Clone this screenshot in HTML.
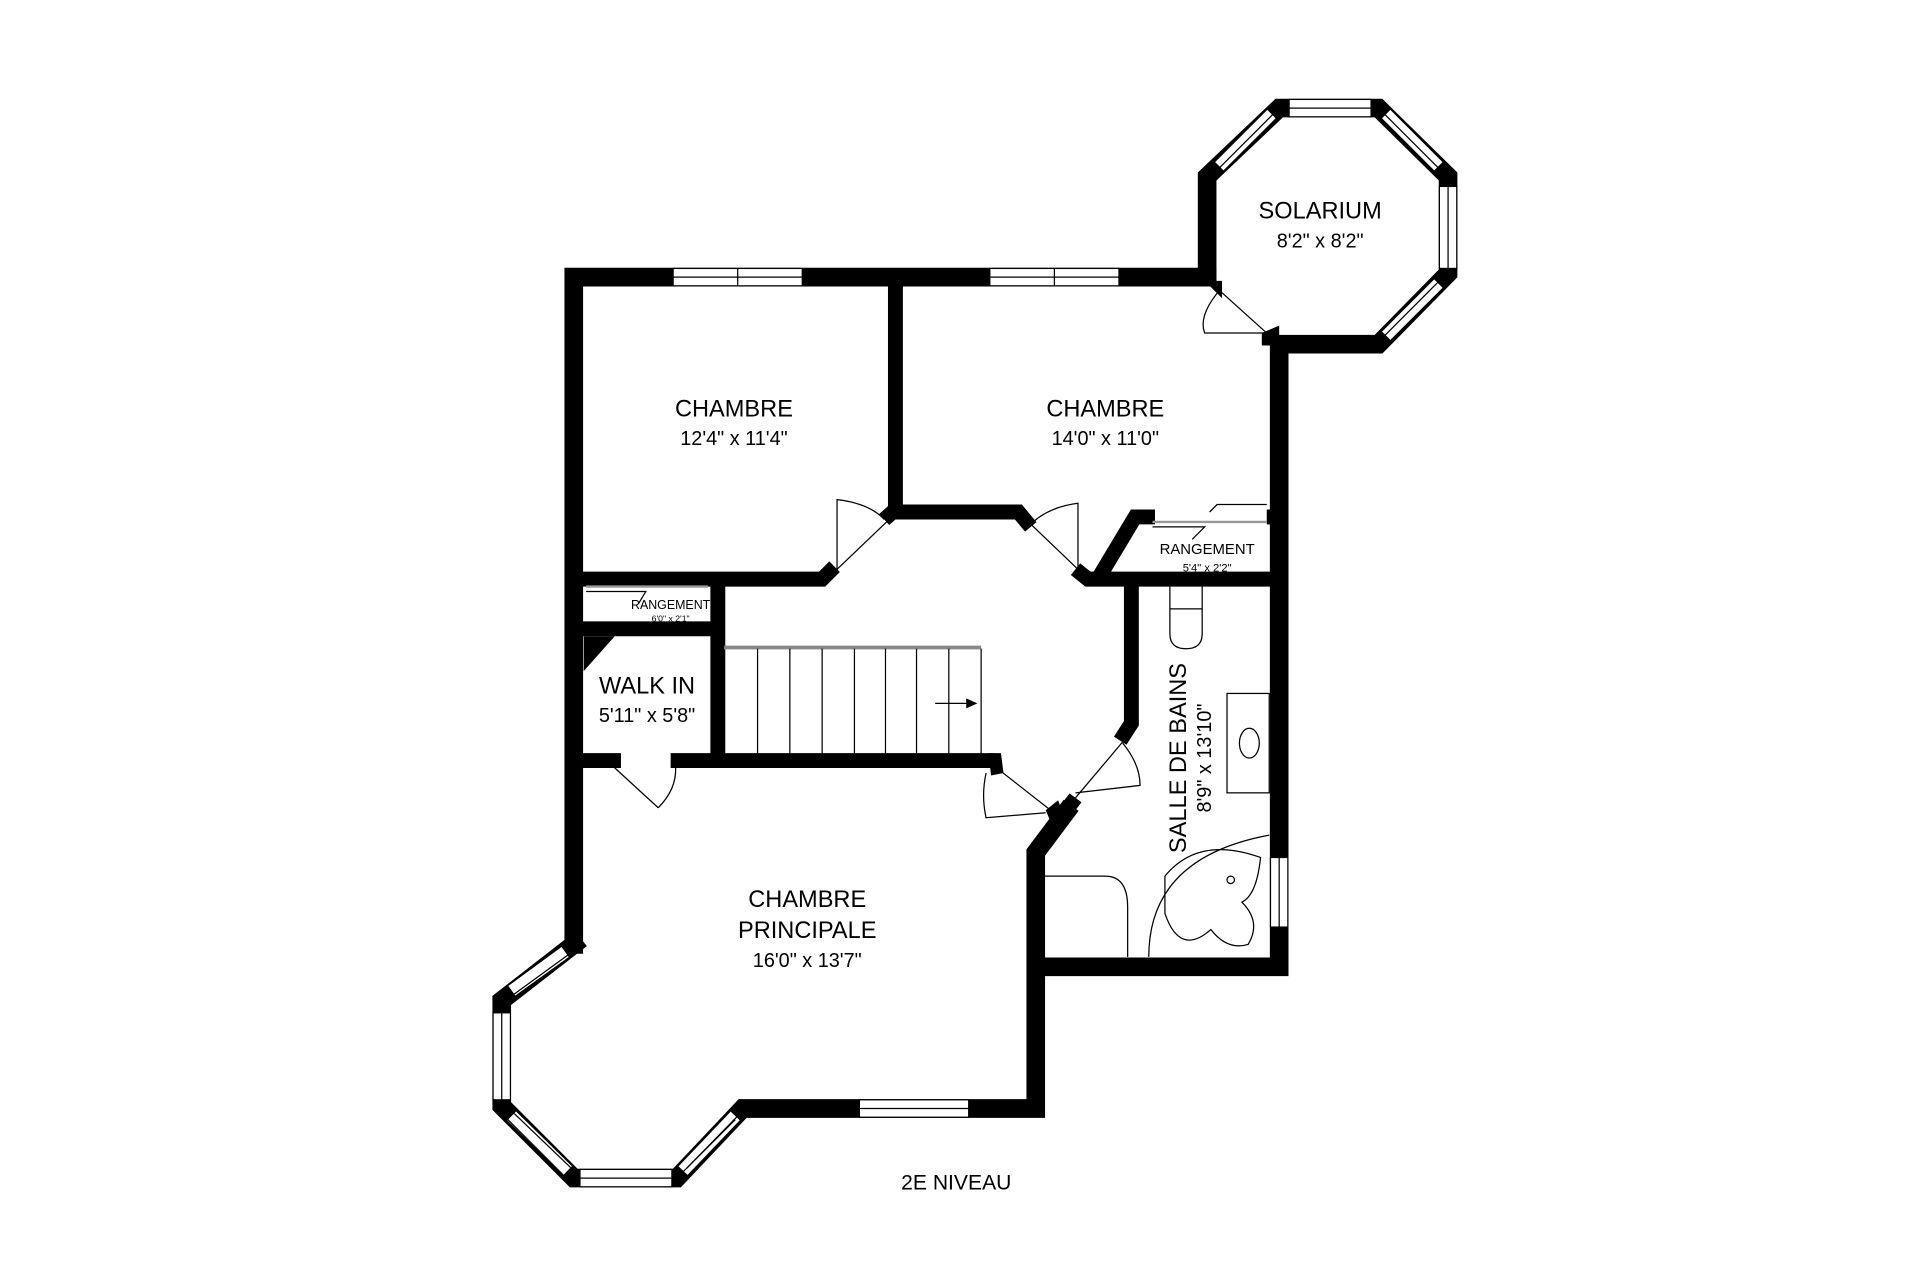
<!DOCTYPE html>
<html><head><meta charset="utf-8"><style>
html,body{margin:0;padding:0;background:#fff;}
svg{display:block;}
text{font-family:"Liberation Sans",sans-serif;fill:#000;}
</style></head><body>
<svg width="1920" height="1280" viewBox="0 0 1546 1030" preserveAspectRatio="none" xmlns="http://www.w3.org/2000/svg">
<g fill="none" stroke="#000" stroke-width="15" stroke-linejoin="miter" stroke-linecap="square">
<polyline points="972,223 462,223 462,760"/>
<polyline points="972,223 972,142 1030,87 1110,87 1166,142 1166,220 1110,277 1030,277 1030,778 838,778"/>
<polyline points="462,760 404,805 404,890 462,948 545,948 598,892 834,892 834,686 858,654"/>
</g>
<g fill="none" stroke="#000" stroke-width="12">
<polyline points="721,223 721,412 820,412 830,424"/>
<polyline points="866,458 876,466 1030,466"/>
<polyline points="468,466 662,466 672,456"/>
<line x1="712" y1="418" x2="721" y2="410"/>
<polyline points="578,466 578,610"/>
<polyline points="468,612 500,612"/>
<polyline points="540,612 800,612"/>
<polyline points="911,470 911,582 902,596"/>
<line x1="854" y1="658" x2="866" y2="642"/>
<polyline points="468,506 578,506"/>
<polyline points="884,466 914,416 930,416"/>
<polyline points="1020,416 1030,416"/>
</g>
<g fill="#000">
<polygon points="970,226 984,226 984,240"/>
<polygon points="1016,268 1030,262 1030,278 1016,278"/>
<polygon points="470,512 495,512 470,540"/>
<polygon points="796,606 806,606 808,622 798,624"/>
<polygon points="842,652 852,644 858,660 848,666"/>
</g>
<g fill="#fff" stroke="#000" stroke-width="1">
<rect x="542" y="216" width="104" height="14"/><line x1="594" y1="216" x2="594" y2="230"/><line x1="542" y1="223" x2="646" y2="223"/>
<rect x="797" y="216" width="104" height="14"/><line x1="849" y1="216" x2="849" y2="230"/><line x1="797" y1="223" x2="901" y2="223"/>
<rect x="1038" y="80" width="66" height="14"/><line x1="1038" y1="87" x2="1104" y2="87"/>
<rect x="1159" y="150" width="14" height="66"/><line x1="1166" y1="150" x2="1166" y2="216"/>
<rect x="692" y="885" width="88" height="14"/><line x1="692" y1="892" x2="780" y2="892"/>
<rect x="467" y="941" width="74" height="14"/><line x1="467" y1="948" x2="541" y2="948"/>
<rect x="397" y="815" width="14" height="70"/><line x1="404" y1="815" x2="404" y2="885"/>
<rect x="1023" y="690" width="14" height="56"/><line x1="1030" y1="690" x2="1030" y2="746"/>
</g>
<g stroke="#fff" stroke-width="10" fill="none">
<line x1="982" y1="134" x2="1024" y2="92"/><line x1="1116" y1="92" x2="1158" y2="134"/>
<line x1="1158" y1="228" x2="1116" y2="270"/><line x1="412" y1="797" x2="455" y2="766"/>
<line x1="412" y1="898" x2="457" y2="942"/><line x1="550" y1="942" x2="592" y2="898"/>
</g>
<g stroke="#000" stroke-width="1" fill="none">
<line x1="979" y1="138" x2="1027" y2="90"/><line x1="985" y1="138" x2="1029" y2="94"/>
<line x1="1113" y1="90" x2="1161" y2="138"/><line x1="1111" y1="94" x2="1155" y2="138"/>
<line x1="1161" y1="224" x2="1113" y2="272"/><line x1="1155" y1="224" x2="1111" y2="268"/>
<line x1="409" y1="793" x2="454" y2="760"/><line x1="414" y1="800" x2="458" y2="768"/>
<line x1="409" y1="901" x2="454" y2="946"/><line x1="414" y1="896" x2="460" y2="940"/>
<line x1="547" y1="946" x2="592" y2="901"/><line x1="553" y1="940" x2="596" y2="896"/>
<line x1="1020" y1="268" x2="980" y2="232"/><path d="M980,236 Q965,255 970,268 L1020,268"/>
<line x1="716" y1="418" x2="672" y2="460"/><path d="M674,460 L674,402 Q700,405 712,418"/>
<line x1="826" y1="418" x2="870" y2="460"/><path d="M868,460 L868,405 Q845,408 832,420"/>
<line x1="800" y1="616" x2="846" y2="652"/><path d="M794,622 Q790,640 794,658 L842,654"/>
<line x1="866" y1="642" x2="904" y2="597"/><path d="M904,598 Q918,615 918,632 L866,638"/>
<line x1="494" y1="617" x2="530" y2="650"/><path d="M530,650 Q545,635 544,617"/>
<line x1="472" y1="472" x2="570" y2="472" stroke="#999" stroke-width="2"/>
<path d="M522,470 L527,463 L570,463"/><path d="M472,476 L520,476 L514,486"/>
<line x1="928" y1="420" x2="1020" y2="420" stroke="#999" stroke-width="2"/>
<path d="M974,412 L980,406 L1020,406"/><path d="M928,424 L970,424 L960,434"/>
<line x1="583" y1="521" x2="790" y2="521" stroke="#888" stroke-width="3"/>
<line x1="610" y1="522" x2="610" y2="607"/><line x1="636" y1="522" x2="636" y2="607"/>
<line x1="662" y1="522" x2="662" y2="607"/><line x1="688" y1="522" x2="688" y2="607"/>
<line x1="713" y1="522" x2="713" y2="607"/><line x1="738" y1="522" x2="738" y2="607"/>
<line x1="764" y1="522" x2="764" y2="607"/><line x1="790" y1="522" x2="790" y2="607"/>
<line x1="753" y1="566" x2="780" y2="566"/>
<path d="M942,472 L942,510 Q942,522 955,522 Q968,522 968,510 L968,472"/><line x1="942" y1="490" x2="968" y2="490"/>
<rect x="988" y="558" width="34" height="80"/><ellipse cx="1006" cy="598" rx="8" ry="12"/>
<path d="M838,705 L890,705 Q908,705 908,730 L908,770"/>
<path d="M925,770 Q925,690 1022,672"/>
<path d="M938,705 Q965,672 1015,690 Q1012,720 1000,726 Q1016,742 1005,760 Q988,765 975,748 Q950,770 938,735 Z"/>
<circle cx="991" cy="708" r="3"/>
</g>
<polygon points="787,566 778,562 778,570" fill="#000"/>
<g font-size="19">
<text x="591" y="335" text-anchor="middle">CHAMBRE</text>
<text x="591" y="358" text-anchor="middle" font-size="16">12'4" x 11'4"</text>
<text x="890" y="335" text-anchor="middle">CHAMBRE</text>
<text x="890" y="358" text-anchor="middle" font-size="16">14'0" x 11'0"</text>
<text x="1063" y="176" text-anchor="middle">SOLARIUM</text>
<text x="1063" y="199" text-anchor="middle" font-size="16">8'2" x 8'2"</text>
<text x="521" y="558" text-anchor="middle">WALK IN</text>
<text x="521" y="581" text-anchor="middle" font-size="16">5'11" x 5'8"</text>
<text x="650" y="730" text-anchor="middle">CHAMBRE</text>
<text x="650" y="755" text-anchor="middle">PRINCIPALE</text>
<text x="650" y="778" text-anchor="middle" font-size="16">16'0" x 13'7"</text>
<text x="770" y="957" text-anchor="middle" font-size="17">2E NIVEAU</text>
<text x="972" y="446" text-anchor="middle" font-size="12">RANGEMENT</text>
<text x="972" y="460" text-anchor="middle" font-size="9">5'4" x 2'2"</text>
<text x="540" y="490" text-anchor="middle" font-size="10">RANGEMENT</text>
<text x="540" y="500" text-anchor="middle" font-size="7">6'0" x 2'1"</text>
<text transform="translate(955,610) rotate(-90)" text-anchor="middle">SALLE DE BAINS</text>
<text transform="translate(975,610) rotate(-90)" text-anchor="middle" font-size="16">8'9" x 13'10"</text>
</g>
</svg>
</body></html>
